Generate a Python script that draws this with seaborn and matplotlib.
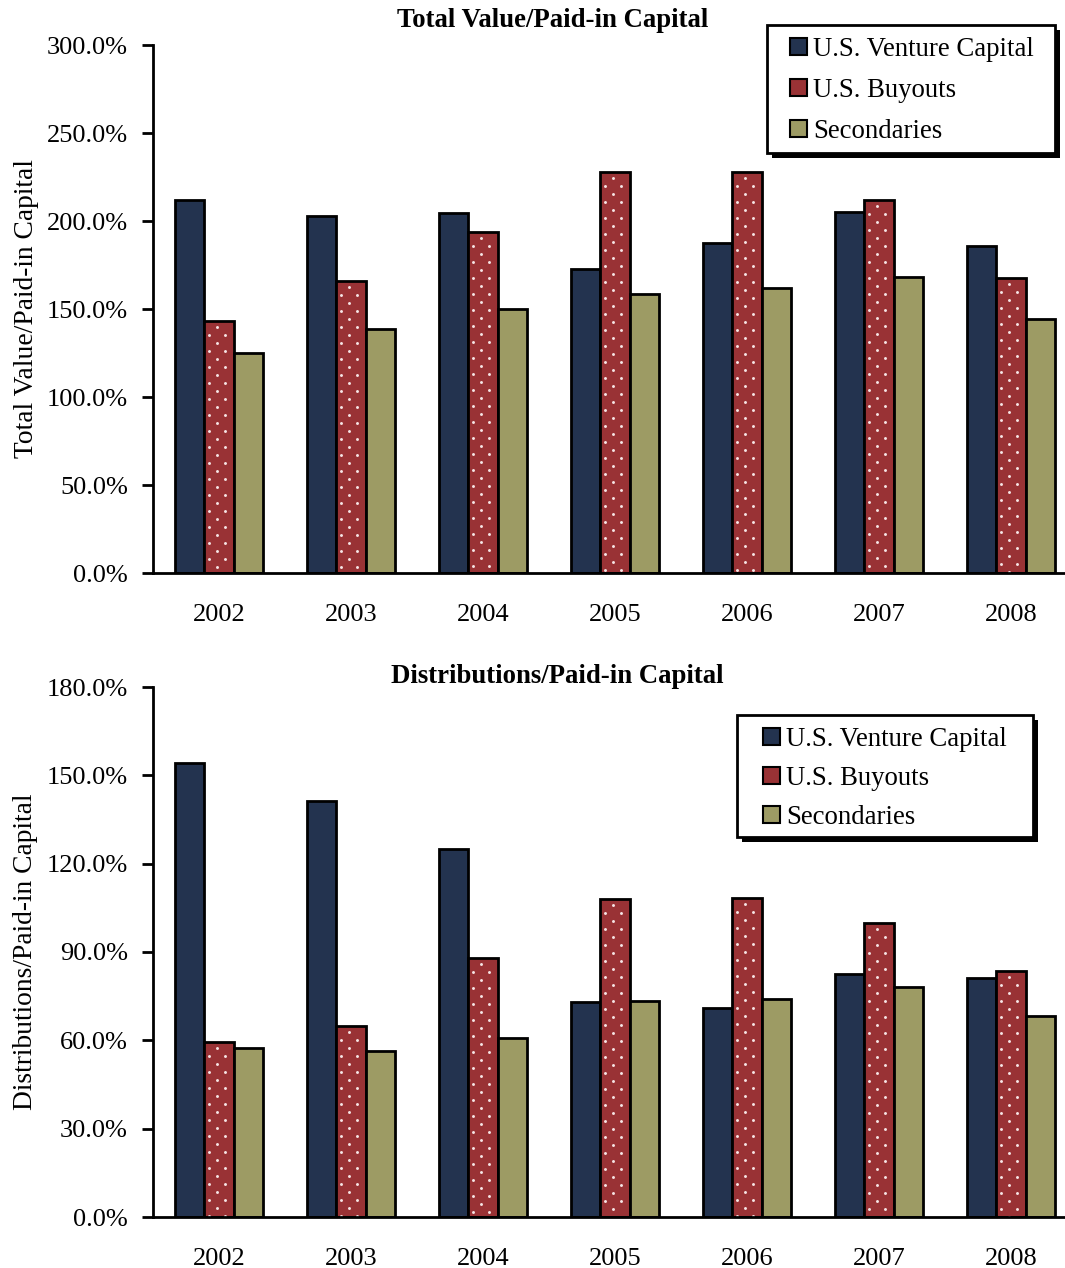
import numpy as np
import pandas as pd
import seaborn as sns
import matplotlib.pyplot as plt
from matplotlib.patches import Patch, Rectangle
from matplotlib.ticker import FuncFormatter
from matplotlib.transforms import IdentityTransform

# ---------------------------------------------------------
# Data
# ---------------------------------------------------------
years = ["2002", "2003", "2004", "2005", "2006", "2007", "2008"]
series = ["U.S. Venture Capital", "U.S. Buyouts", "Secondaries"]

tvpi_vc = [212.0, 202.8, 204.4, 172.9, 187.3, 204.9, 185.8]
tvpi_bo = [143.2, 166.1, 193.9, 227.8, 227.8, 211.8, 167.4]
tvpi_sec = [125.2, 138.8, 149.8, 158.5, 161.9, 168.4, 144.5]

dpi_vc = [154.1, 141.3, 125.0, 72.9, 71.0, 82.5, 81.3]
dpi_bo = [59.3, 64.9, 87.9, 108.0, 108.3, 99.8, 83.6]
dpi_sec = [57.3, 56.3, 60.7, 73.5, 74.0, 78.1, 68.3]

colors = ["#23334F", "#993235", "#9D9B64"]

# ---------------------------------------------------------
# Style
# ---------------------------------------------------------
sns.set_style("white")
plt.rcParams["font.family"] = ["Liberation Serif", "DejaVu Serif"]
for key in ["text.color", "axes.labelcolor", "xtick.color", "ytick.color"]:
    plt.rcParams[key] = "black"
FS = 19
W, H = 1065, 1268


def long_frame(vc, bo, sec):
    rows = []
    for name, vals in zip(series, [vc, bo, sec]):
        for yr, v in zip(years, vals):
            rows.append({"year": yr, "series": name, "value": v})
    return pd.DataFrame(rows)


def add_dots(ax, bar):
    # sparse white dot texture (staggered rows, 8 px apart)
    x0, y0, x1, y1 = bar.get_window_extent().extents
    xs, ys = [], []
    for k, y in enumerate(np.arange(y1 - 6, y0, -8)):
        start = x0 + (5 if k % 2 else 13)
        for x in np.arange(start, x1 - 3, 16):
            xs.append(x)
            ys.append(y)
    ax.plot(xs, ys, linestyle="none", marker="o", markersize=2.1,
            markerfacecolor="#F6E6E6", markeredgewidth=0,
            transform=IdentityTransform(), zorder=bar.get_zorder() + 0.1)


def draw_panel(ax, df, title, ylabel, ymax, step, title_xy):
    sns.barplot(
        data=df, x="year", y="value", hue="series", hue_order=series,
        palette=colors, width=0.665, edgecolor="black", linewidth=2.0,
        saturation=1, errorbar=None, legend=False, ax=ax,
    )
    ax.set_xlim(-0.5, 6.41)
    ax.set_ylim(0, ymax)
    for bar in ax.containers[1]:
        add_dots(ax, bar)
    ax.set_yticks([i * step for i in range(int(ymax / step) + 1)])
    ax.yaxis.set_major_formatter(FuncFormatter(lambda v, p: f"{v:.1f}%"))
    ax.tick_params(axis="y", direction="out", length=8, width=2, pad=10,
                   labelsize=FS, left=True, colors="black")
    ax.tick_params(axis="x", length=0, pad=22, labelsize=FS, colors="black")
    for s in ["top", "right"]:
        ax.spines[s].set_visible(False)
    for s in ["left", "bottom"]:
        ax.spines[s].set_linewidth(2)
        ax.spines[s].set_color("black")
    ax.set_xlabel("")
    ax.set_ylabel(ylabel, fontsize=19.8, labelpad=6, color="black")
    ax.text(title_xy[0], title_xy[1], title, transform=ax.transAxes,
            ha="center", va="center", fontsize=19.3, fontweight="bold",
            color="black")


def add_legend(ax, frame, text_anchor, spacing):
    # frame = (left, top, right, bottom) in pixels from the top-left corner
    l, t, r, b = frame
    fig = ax.figure
    shadow = Rectangle(((l + 5) / W, 1 - (b + 5) / H), (r - l) / W, (b - t) / H,
                       transform=fig.transFigure, facecolor="black",
                       edgecolor="none", clip_on=False, zorder=4)
    box = Rectangle((l / W, 1 - b / H), (r - l) / W, (b - t) / H,
                    transform=fig.transFigure, facecolor="white",
                    edgecolor="black", linewidth=2, clip_on=False, zorder=4.1)
    ax.add_patch(shadow)
    ax.add_patch(box)
    handles = [Patch(facecolor=c, edgecolor="black", linewidth=1.5) for c in colors]
    leg = ax.legend(handles, series, loc="upper left",
                    bbox_to_anchor=(text_anchor[0] / W, 1 - text_anchor[1] / H),
                    bbox_transform=fig.transFigure, borderaxespad=0, borderpad=0,
                    fontsize=FS + 0.3, frameon=False, handlelength=0.62,
                    handleheight=0.62, handletextpad=0.25, labelspacing=spacing)
    for txt in leg.get_texts():
        txt.set_color("black")


fig = plt.figure(figsize=(W / 100, H / 100), dpi=100)
ax1 = fig.add_axes([153 / W, 1 - 573 / H, 912 / W, 528 / H])
ax2 = fig.add_axes([153 / W, 1 - 1217 / H, 912 / W, 530 / H])

draw_panel(ax1, long_frame(tvpi_vc, tvpi_bo, tvpi_sec),
           "Total Value/Paid-in Capital", "Total Value/Paid-in Capital",
           300, 50, (0.4386, 1.0473))
draw_panel(ax2, long_frame(dpi_vc, dpi_bo, dpi_sec),
           "Distributions/Paid-in Capital", "Distributions/Paid-in Capital",
           180, 30, (0.443, 1.0189))

add_legend(ax1, (767, 25, 1055, 153), (790, 37), 0.59)
add_legend(ax2, (737, 715, 1033, 837), (763, 727), 0.52)

fig.savefig("out.png", dpi=100)
